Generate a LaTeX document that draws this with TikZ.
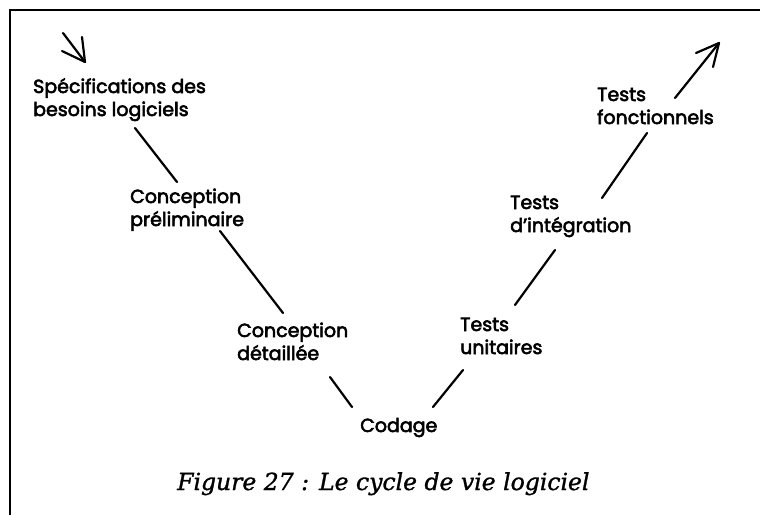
\documentclass[tikz,border=0pt]{standalone}
\usepackage{fontspec}
\newfontfamily\vfont[FakeBold=3]{Poppins}
\newfontfamily\capfont[FakeBold=1.2]{DejaVu Serif}
\begin{document}
\begin{tikzpicture}[x=1pt,y=-1pt,
  lbl/.style={anchor=base west,inner sep=0pt,align=left,font=\vfont\fontsize{19}{23}\selectfont},
  conn/.style={line width=2.2pt,line cap=round,line join=round},
  frame/.style={line width=1.6pt}]
\useasboundingbox (0,0) rectangle (760,515);
\draw[frame] (10,515) -- (10,10) -- (760,10);
% labels (base = baseline of the last line)
\node[lbl] (spec) at (33,116) {Spécifications des\\besoins logiciels};
\node[lbl] (prel) at (130,226) {Conception\\préliminaire};
\node[lbl] (det) at (237,360) {Conception\\détaillée};
\node[lbl] (cod) at (360,432) {Codage};
\node[lbl] (tu) at (460,354) {Tests\\unitaires};
\node[lbl] (ti) at (510,232) {Tests\\d’intégration};
\node[lbl] (tf) at (597,124) {Tests\\fonctionnels};
\node[anchor=base west,inner sep=0pt,font=\capfont\itshape\fontsize{23.5}{28}\selectfont] (cap) at (177,490) {Figure 27 : Le cycle de vie logiciel};
% connector end points
\coordinate (a0) at (63,33);  \coordinate (a1) at (85,62);
\coordinate (c1a) at (135,128); \coordinate (c1b) at (177,182);
\coordinate (c2a) at (220,231); \coordinate (c2b) at (283,313);
\coordinate (c3a) at (330,377); \coordinate (c3b) at (352,407);
\coordinate (c4a) at (433,407); \coordinate (c4b) at (463,370);
\coordinate (c5a) at (515,305); \coordinate (c5b) at (555,250);
\coordinate (c6a) at (602,198); \coordinate (c6b) at (647,133);
\coordinate (b0) at (675,98);  \coordinate (b1) at (719,43);
% entry arrow
\draw[conn] (a0) -- (a1);
\draw[conn] (a1) -- ++(-23,-11);
\draw[conn] (a1) -- ++(-3,-25);
% V connectors
\draw[conn] (c1a) -- (c1b);
\draw[conn] (c2a) -- (c2b);
\draw[conn] (c3a) -- (c3b);
\draw[conn] (c4a) -- (c4b);
\draw[conn] (c5a) -- (c5b);
\draw[conn] (c6a) -- (c6b);
% exit arrow
\draw[conn] (b0) -- (b1);
\draw[conn] (b1) -- ++(-23,10);
\draw[conn] (b1) -- ++(-6,24);
\end{tikzpicture}
\end{document}
